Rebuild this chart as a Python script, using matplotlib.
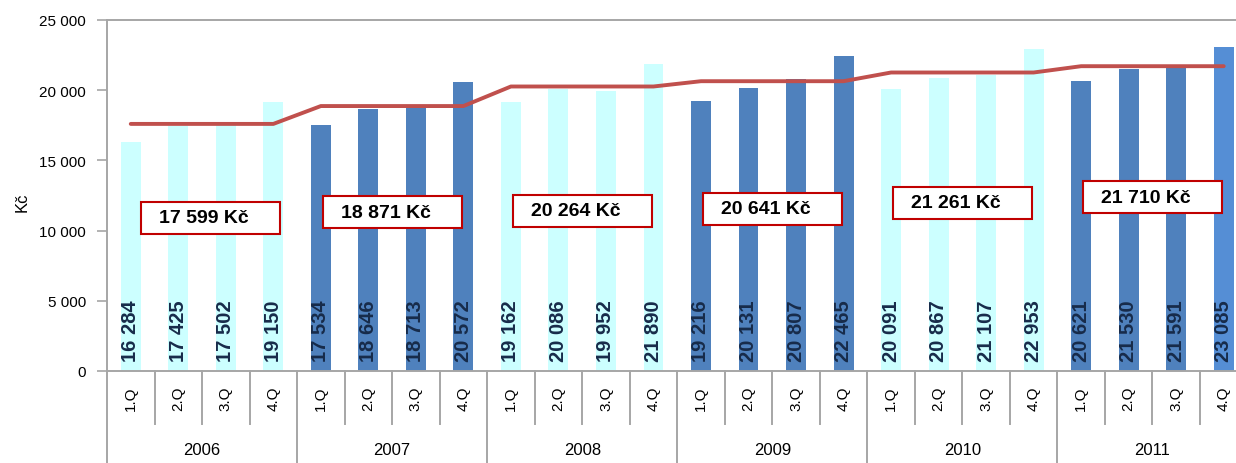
import matplotlib
matplotlib.use("Agg")
import matplotlib.pyplot as plt
from matplotlib.patches import Rectangle
import matplotlib.transforms as mtransforms

plt.rcParams['font.family'] = ['Liberation Sans', 'DejaVu Sans']

years = ["2006", "2007", "2008", "2009", "2010", "2011"]
quarters = ["1.Q", "2.Q", "3.Q", "4.Q"]
values = [16284, 17425, 17502, 19150,
          17534, 18646, 18713, 20572,
          19162, 20086, 19952, 21890,
          19216, 20131, 20807, 22465,
          20091, 20867, 21107, 22953,
          20621, 21530, 21591, 23085]
year_avg = [17599, 18871, 20264, 20641, 21261, 21710]
box_y = [10900, 11290, 11430, 11570, 11970, 12360]

light = "#CCFFFF"
dark = "#4F81BD"
last = "#558ED5"
bar_colors = []
for yi in range(len(years)):
    for qi in range(len(quarters)):
        c = light if yi % 2 == 0 else dark
        if yi == len(years) - 1 and qi == len(quarters) - 1:
            c = last
        bar_colors.append(c)

fmt = lambda v: f"{v:,}".replace(",", " ")

fig = plt.figure(figsize=(12.36, 4.64), dpi=100)
ax = fig.add_axes([107/1236, 92/464, (24*47.52)/1236, 351/464])

x = list(range(len(values)))
ax.bar(x, values, width=0.42, color=bar_colors, zorder=2)

line_x = x
line_y = [year_avg[i // 4] for i in x]
ax.plot(line_x, line_y, color="#C0504D", linewidth=2.8, zorder=3,
        solid_capstyle="round")

for xi, v in zip(x, values):
    ax.text(xi, 2900, fmt(v), rotation=90, ha="center", va="center",
            fontsize=14.5, fontweight="bold", color="#172B4A", zorder=4,
            family=['Liberation Sans Narrow', 'Liberation Sans', 'DejaVu Sans'])

ax.set_xlim(-0.5, len(values) - 0.5)
ax.set_ylim(0, 25000)
ax.set_yticks(range(0, 25001, 5000))
ax.set_yticklabels([fmt(v) for v in range(0, 25001, 5000)], fontsize=11)
ax.set_xticks([])
ax.tick_params(axis="y", direction="out", length=7, width=1.2,
               color="#A6A6A6", pad=8)

for s in ["right"]:
    ax.spines[s].set_visible(False)
for s in ["left", "bottom", "top"]:
    ax.spines[s].set_color("#A6A6A6")
    ax.spines[s].set_linewidth(1.4)

# averages boxes
bw = 2.93
bh = 2280
for yi, (avg, by) in enumerate(zip(year_avg, box_y)):
    cx = yi * 4 + 1.5 + (0.18 if yi == 0 else 0.0)
    left = cx - bw / 2
    ax.add_patch(Rectangle((left, by - bh / 2), bw, bh, facecolor="white",
                           edgecolor="#C00000", linewidth=1.5, zorder=5))
    ax.text(left + 0.38, by, f"{fmt(avg)} Kč", ha="left", va="center",
            fontsize=14, fontweight="bold", color="black", zorder=6)

# category axis
trans = mtransforms.blended_transform_factory(ax.transData, ax.transAxes)
for i in range(len(values) + 1):
    xb = i - 0.5
    if i % 4 == 0:
        ax.plot([xb, xb], [0, -0.3], transform=trans, color="#A6A6A6",
                linewidth=1.4, clip_on=False)
    else:
        ax.plot([xb, xb], [0, -0.151], transform=trans, color="#A6A6A6",
                linewidth=1.4, clip_on=False)
for xi in x:
    ax.text(xi, -0.075, quarters[xi % 4], rotation=90, ha="center",
            va="center", fontsize=11, transform=trans)
for yi, yr in enumerate(years):
    ax.text(yi * 4 + 1.5, -0.225, yr, ha="center", va="center",
            fontsize=12, transform=trans)

fig.text(22/1236, 1 - 202/464, "Kč", rotation=90, ha="center", va="center",
         fontsize=12)

fig.savefig("out.png", dpi=100)
